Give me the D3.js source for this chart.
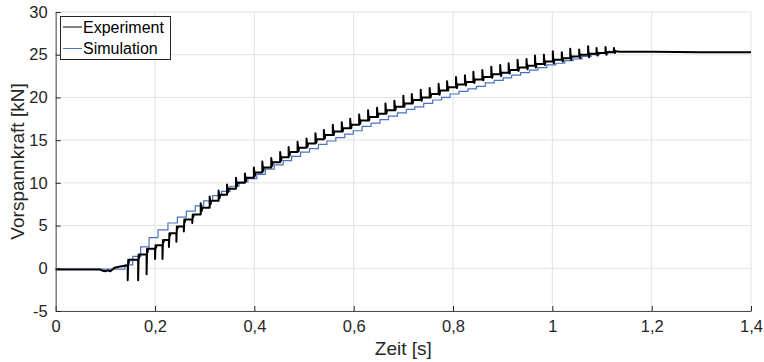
<!DOCTYPE html>
<html><head><meta charset="utf-8">
<script src="https://cdn.jsdelivr.net/npm/d3@7"></script>
<style>body{margin:0;background:#fff}svg{display:block}</style>
</head><body>
<svg id="c" width="764" height="362"></svg>
<script>
// ---- data ----
const xTicks = [0, 0.2, 0.4, 0.6, 0.8, 1.0, 1.2, 1.4];
const xTickLabels = ["0", "0,2", "0,4", "0,6", "0,8", "1", "1,2", "1,4"];
const yTicks = [-5, 0, 5, 10, 15, 20, 25, 30];
const yTickLabels = ["-5", "0", "5", "10", "15", "20", "25", "30"];
const seriesNames = ["Experiment", "Simulation"];

// Experiment: idle phase before tightening
const expPreT = [0, 0.09, 0.095, 0.1, 0.105, 0.11, 0.115, 0.12, 0.13, 0.14];
const expPreF = [-0.15, -0.15, -0.3, -0.35, -0.25, -0.35, -0.1, 0.1, 0.2, 0.3];
// Experiment: step instants, level after step, spike extreme at step, small dip after spike
const expT = [0.145, 0.166, 0.183, 0.200, 0.215, 0.228, 0.243, 0.258,
  0.275, 0.292, 0.310, 0.328, 0.345, 0.363, 0.381, 0.399, 0.416, 0.434, 0.452, 0.469,
  0.487, 0.505, 0.523, 0.540, 0.558, 0.576, 0.593, 0.611, 0.629, 0.647, 0.664, 0.682,
  0.700, 0.717, 0.735, 0.753, 0.771, 0.788, 0.806, 0.824, 0.841, 0.859, 0.877, 0.895,
  0.912, 0.930, 0.948, 0.965, 0.983, 1.001, 1.019, 1.036, 1.054, 1.072, 1.089, 1.107, 1.124];
const expF = [1.0, 1.6, 2.3, 2.7, 3.3, 4.1, 4.9, 5.7,
  6.3, 7.1, 7.9, 8.6, 9.3, 10.0, 10.6, 11.2, 11.8, 12.4, 13.0, 13.6,
  14.1, 14.6, 15.1, 15.6, 16.0, 16.4, 16.8, 17.3, 17.7, 18.1, 18.5, 18.9,
  19.3, 19.7, 20.0, 20.4, 20.8, 21.2, 21.5, 21.8, 22.1, 22.4, 22.7, 22.9,
  23.2, 23.5, 23.7, 23.9, 24.2, 24.4, 24.6, 24.8, 25.0, 25.1, 25.2, 25.3, 25.4];
const expSpike = [-1.4, -1.4, -0.7, 1.1, 1.1, 2.5, 3.1, 4.3,
  5.3, 7.6, 8.4, 9.1, 9.8, 10.6, 11.1, 11.8, 12.5, 12.9, 13.6, 14.2,
  14.8, 15.2, 15.8, 16.2, 16.8, 17.1, 17.5, 18.0, 18.5, 18.8, 19.3, 19.6,
  20.2, 20.4, 20.9, 21.1, 21.6, 21.9, 22.4, 22.6, 23.0, 23.2, 23.6, 23.8,
  24.0, 24.4, 24.5, 24.9, 25.0, 25.4, 25.3, 25.7, 25.6, 26.0, 25.8, 25.9, 25.8];
const expDip = [0.6, 1.2, 1.9, 2.4, 3.0, 3.8, 4.6, 5.4,
  6.0, 6.7, 7.5, 8.2, 8.9, 9.6, 10.2, 10.8, 11.4, 12.0, 12.6, 13.2,
  13.7, 14.2, 14.7, 15.2, 15.6, 16.0, 16.4, 16.9, 17.3, 17.7, 18.1, 18.5,
  18.9, 19.3, 19.6, 20.0, 20.3, 20.8, 21.1, 21.4, 21.7, 22.0, 22.3, 22.5,
  22.8, 23.1, 23.3, 23.5, 23.8, 24.0, 24.2, 24.4, 24.6, 24.7, 24.9, 25.0, 25.2];
// Experiment: hold phase
const expPostT = [1.135, 1.2, 1.3, 1.4];
const expPostF = [25.35, 25.35, 25.3, 25.3];

// Simulation: step instants and level after each step
const simT = [0.139, 0.155, 0.171, 0.188, 0.206, 0.226, 0.245, 0.263,
  0.281, 0.298, 0.316, 0.334, 0.351, 0.369, 0.387, 0.405, 0.422, 0.440, 0.458, 0.475,
  0.493, 0.511, 0.529, 0.546, 0.564, 0.582, 0.599, 0.617, 0.635, 0.653, 0.670, 0.688,
  0.706, 0.723, 0.741, 0.759, 0.777, 0.794, 0.812, 0.830, 0.847, 0.865, 0.883, 0.901,
  0.918, 0.936, 0.954, 0.971, 0.989, 1.007, 1.025, 1.042, 1.060, 1.078, 1.095, 1.113, 1.130];
const simF = [0.4, 1.4, 2.5, 3.6, 4.5, 5.3, 6.0, 6.7,
  7.3, 7.9, 8.5, 9.0, 9.6, 10.1, 10.5, 11.0, 11.6, 12.1, 12.6, 13.1,
  13.6, 14.0, 14.5, 14.9, 15.3, 15.7, 16.1, 16.6, 17.0, 17.4, 17.8, 18.2,
  18.6, 18.9, 19.3, 19.7, 20.0, 20.4, 20.7, 21.0, 21.3, 21.7, 22.0, 22.3,
  22.6, 22.9, 23.2, 23.5, 23.8, 24.0, 24.3, 24.5, 24.8, 25.0, 25.2, 25.4, 25.4];
const simStartF = -0.1;

// ---- chart ----
const svg = d3.select("#c");
const font = "'Liberation Sans', Arial, Helvetica, sans-serif";
const x = d3.scaleLinear().domain([0, 1.4]).range([55.7, 751]);
const y = d3.scaleLinear().domain([-5, 30]).range([311, 12]);

// grid
const grid = svg.append("g");
grid.selectAll("line.v").data(xTicks).join("line")
  .attr("x1", d => x(d)).attr("x2", d => x(d)).attr("y1", y(-5)).attr("y2", y(30))
  .attr("stroke", "#e3e3e3").attr("stroke-width", 1);
grid.selectAll("line.h").data(yTicks).join("line")
  .attr("y1", d => y(d)).attr("y2", d => y(d)).attr("x1", x(0)).attr("x2", x(1.4))
  .attr("stroke", "#e3e3e3").attr("stroke-width", 1);

// series paths
const line = d3.line().x(d => x(d[0])).y(d => y(d[1]));

const simPts = [[0, simStartF]];
let prev = simStartF;
simT.forEach((t, i) => { simPts.push([t, prev]); simPts.push([t, simF[i]]); prev = simF[i]; });

const expPts = expPreT.map((t, i) => [t, expPreF[i]]);
prev = expPreF[expPreF.length - 1];
expT.forEach((t, i) => {
  expPts.push([t, prev]);
  expPts.push([t, expSpike[i]]);
  expPts.push([t + 0.001, expF[i]]);
  expPts.push([t + 0.002, expDip[i]]);
  expPts.push([t + 0.003, expF[i]]);
  prev = expF[i];
});
expPostT.forEach((t, i) => expPts.push([t, expPostF[i]]));

svg.append("path").datum(simPts).attr("d", line)
  .attr("fill", "none").attr("stroke", "#4a72c4").attr("stroke-width", 1.2);
svg.append("path").datum(expPts).attr("d", line)
  .attr("fill", "none").attr("stroke", "#000").attr("stroke-width", 2)
  .attr("stroke-linejoin", "round");

// axes
const xAxis = d3.axisBottom(x).tickValues(xTicks).tickFormat((d, i) => xTickLabels[i])
  .tickSizeInner(-5).tickSizeOuter(0).tickPadding(9);
const yAxis = d3.axisLeft(y).tickValues(yTicks).tickFormat((d, i) => yTickLabels[i])
  .tickSizeInner(-5).tickSizeOuter(0).tickPadding(8);
const gx = svg.append("g").attr("transform", `translate(0,${y(-5)})`).call(xAxis);
const gy = svg.append("g").attr("transform", `translate(${x(0)},0)`).call(yAxis);
[gx, gy].forEach(g => {
  g.select(".domain").attr("stroke", "#4d4d4d");
  g.selectAll(".tick line").attr("stroke", "#262626");
  g.selectAll("text").attr("fill", "#262626").style("font-family", font).style("font-size", "16.5px");
});

svg.append("text").attr("x", (x(0) + x(1.4)) / 2).attr("y", 355)
  .attr("text-anchor", "middle").style("font-family", font).style("font-size", "19px")
  .attr("fill", "#262626").text("Zeit [s]");
svg.append("text").attr("transform", `translate(24,${(y(-5) + y(30)) / 2}) rotate(-90)`)
  .attr("text-anchor", "middle").style("font-family", font).style("font-size", "19px")
  .attr("fill", "#262626").text("Vorspannkraft [kN]");

// legend
const lg = svg.append("g");
lg.append("rect").attr("x", 60.5).attr("y", 16.5).attr("width", 110).attr("height", 43)
  .attr("fill", "#fff").attr("stroke", "#262626").attr("stroke-width", 1);
const lcol = ["#000", "#4a72c4"];
seriesNames.forEach((n, i) => {
  const cy = 27 + i * 21.5;
  lg.append("line").attr("x1", 63).attr("x2", 82).attr("y1", cy).attr("y2", cy)
    .attr("stroke", lcol[i]).attr("stroke-width", 1);
  lg.append("text").attr("x", 83).attr("y", cy + 5.8).style("font-family", font)
    .style("font-size", "16px").attr("fill", "#000").text(n);
});
</script>
</body></html>
